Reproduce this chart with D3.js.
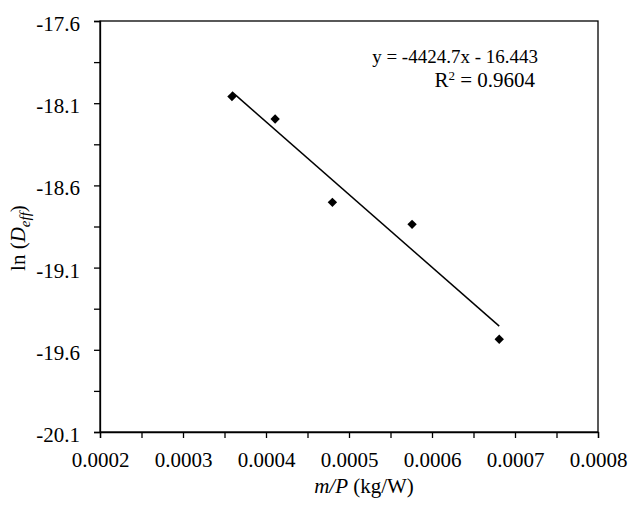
<!DOCTYPE html>
<html>
<head>
<meta charset="utf-8">
<script src="https://cdn.jsdelivr.net/npm/d3@7"></script>
<style>
  body { margin: 0; background: #fff; }
  text { font-family: 'Liberation Serif', 'Times New Roman', serif; fill: #000; }
</style>
</head>
<body>
<div id="chart"></div>
<script>
// data
const massPower = [0.000359, 0.000411, 0.000480, 0.000576, 0.000681];
const lnDeff = [-18.06, -18.196, -18.703, -18.837, -19.536];
const xTicks = [0.0002, 0.0003, 0.0004, 0.0005, 0.0006, 0.0007, 0.0008];
const yTicks = [-20.1, -19.6, -19.1, -18.6, -18.1, -17.6];
const trendSlope = -4424.7;
const trendIntercept = -16.443;
const equationText = 'y = -4424.7x - 16.443';
const r2Text = '0.9604';

const width = 640;
const height = 511;
const margin = { top: 21, right: 42, bottom: 79, left: 100 };
const tickLen = 6;
const serif = "'Liberation Serif', 'Times New Roman', serif";

const svg = d3.select('#chart')
  .append('svg')
  .attr('width', width)
  .attr('height', height);

const xScale = d3.scaleLinear()
  .domain([0.0002, 0.0008])
  .range([margin.left, width - margin.right]);

const yScale = d3.scaleLinear()
  .domain([-20.1, -17.6])
  .range([height - margin.bottom, margin.top]);

// minor ticks halfway between the labelled ones
const xMinor = d3.range(0, 13).map((i) => 0.0002 + i * 0.00005);
const yMinor = d3.range(0, 11).map((i) => -20.1 + i * 0.25);

// plain hyphen for negatives, like the original
const fmt = (spec) => (v) => d3.format(spec)(v).replace('\u2212', '-');

// plot frame
svg.append('rect')
  .attr('x', xScale.range()[0])
  .attr('y', yScale.range()[1])
  .attr('width', xScale.range()[1] - xScale.range()[0])
  .attr('height', yScale.range()[0] - yScale.range()[1])
  .attr('fill', 'none')
  .attr('stroke', '#000')
  .attr('stroke-width', 1.3);

// axes
const xAxis = d3.axisBottom(xScale)
  .tickValues(xMinor)
  .tickSize(tickLen)
  .tickFormat((d) => {
    const hit = xTicks.find((t) => Math.abs(t - d) < 1e-9);
    return hit !== undefined ? fmt('.4f')(hit) : '';
  });
const yAxis = d3.axisLeft(yScale)
  .tickValues(yMinor)
  .tickSize(tickLen)
  .tickFormat((d) => {
    const hit = yTicks.find((t) => Math.abs(t - d) < 1e-9);
    return hit !== undefined ? fmt('.1f')(hit) : '';
  });

const gx = svg.append('g')
  .attr('transform', `translate(0 ${yScale.range()[0]})`)
  .call(xAxis);
const gy = svg.append('g')
  .attr('transform', `translate(${xScale.range()[0]} 0)`)
  .call(yAxis);

[gx, gy].forEach((g) => {
  g.attr('font-family', serif).attr('font-size', 21);
  g.select('.domain').attr('stroke-width', 1.3);
  g.selectAll('.tick line').attr('stroke-width', 1.3);
  g.selectAll('.tick text').attr('fill', '#000');
});
gx.selectAll('.tick text').attr('dy', '0.71em').attr('y', 20);
gy.selectAll('.tick text').attr('x', -20).attr('dy', '0.45em');

// trendline over the range of the data
const xExtent = d3.extent(massPower);
svg.append('line')
  .attr('x1', xScale(xExtent[0]))
  .attr('y1', yScale(trendSlope * xExtent[0] + trendIntercept))
  .attr('x2', xScale(xExtent[1]))
  .attr('y2', yScale(trendSlope * xExtent[1] + trendIntercept))
  .attr('stroke', '#000')
  .attr('stroke-width', 1.5);

// data markers (diamonds)
const diamond = d3.symbol().type(d3.symbolSquare).size(44);
svg.append('g')
  .selectAll('path')
  .data(massPower)
  .enter()
  .append('path')
  .attr('d', diamond)
  .attr('transform', (d, i) => `translate(${xScale(d)} ${yScale(lnDeff[i])}) rotate(45)`)
  .attr('fill', '#000');

// trendline label
const eq = svg.append('g')
  .attr('transform', 'translate(538 0)')
  .attr('text-anchor', 'end');
eq.append('text')
  .attr('y', 63)
  .style('font-size', '19px')
  .text(equationText);
const r2 = eq.append('text').attr('y', 87).attr('x', -3).style('font-size', '21px');
r2.append('tspan').text('R');
r2.append('tspan').attr('dy', -7).style('font-size', '13px').text('2');
r2.append('tspan').attr('dy', 7).text(` = ${r2Text}`);

// x axis title
const xt = svg.append('text')
  .attr('x', 364)
  .attr('y', 493)
  .attr('text-anchor', 'middle')
  .style('font-size', '21px');
xt.append('tspan').style('font-style', 'italic').text('m/P');
xt.append('tspan').text(' (kg/W)');

// y axis title
const yt = svg.append('text')
  .attr('transform', 'translate(25 238) rotate(-90)')
  .attr('text-anchor', 'middle')
  .style('font-size', '21px');
yt.append('tspan').text('ln (');
yt.append('tspan').style('font-style', 'italic').text('D');
yt.append('tspan').style('font-style', 'italic').style('font-size', '15px')
  .attr('dy', 5).text('eff');
yt.append('tspan').attr('dy', -5).text(')');
</script>
</body>
</html>
